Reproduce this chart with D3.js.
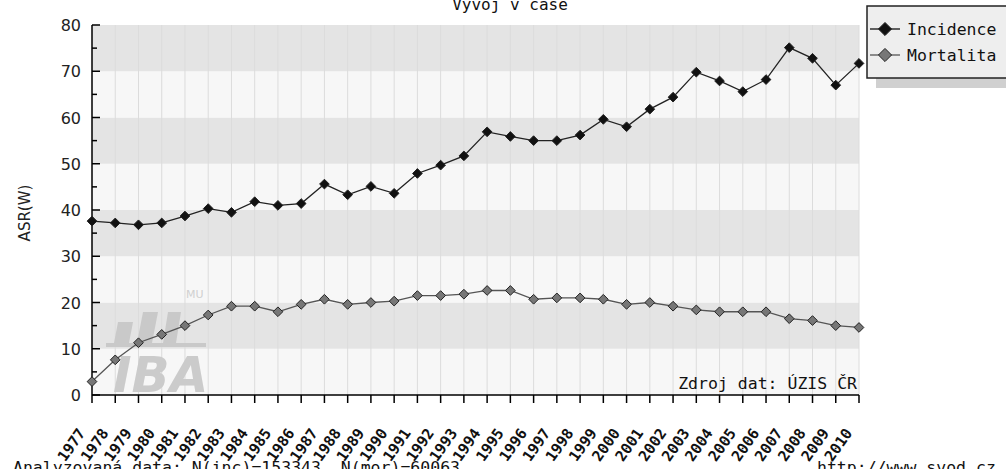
<!DOCTYPE html>
<html><head><meta charset="utf-8">
<script src="https://cdn.jsdelivr.net/npm/d3@7"></script>
<style>
body{margin:0;background:#fff;}
svg{display:block;}
.mono{font-family:"DejaVu Sans Mono",monospace;}
</style></head>
<body>
<svg id="c" width="1006" height="469"></svg>
<script>
const years = [1977,1978,1979,1980,1981,1982,1983,1984,1985,1986,1987,1988,1989,1990,1991,1992,1993,1994,1995,1996,1997,1998,1999,2000,2001,2002,2003,2004,2005,2006,2007,2008,2009,2010];
const incidence = [37.6,37.2,36.8,37.2,38.7,40.3,39.5,41.8,41.0,41.4,45.6,43.3,45.1,43.6,47.9,49.7,51.7,56.9,55.9,55.0,55.0,56.2,59.6,58.0,61.8,64.4,69.8,67.9,65.6,68.2,75.1,72.8,67.0,71.7];
const mortalita = [2.9,7.6,11.3,13.1,15.0,17.3,19.2,19.2,18.0,19.6,20.7,19.6,20.0,20.3,21.5,21.5,21.8,22.6,22.6,20.7,21.0,21.0,20.7,19.6,20.0,19.2,18.4,18.0,18.0,18.0,16.5,16.1,15.0,14.6];
const yTicks = [0,10,20,30,40,50,60,70,80];
const seriesNames = ["Incidence","Mortalita"];
const titleText = "Vývoj v čase";
const yTitle = "ASR(W)";
const sourceText = "Zdroj dat: ÚZIS ČR";
const footLeft = "Analyzovaná data: N(inc)=153343, N(mor)=60063";
const footRight = "http://www.svod.cz";

const svg = d3.select("#c");
const L=92, R=859, T=25, B=395;
const x = d3.scaleLinear().domain([years[0], years[years.length-1]]).range([L,R]);
const y = d3.scaleLinear().domain([0,80]).range([B,T]);

// bands
const bands = d3.range(0,80,10);
svg.append("g").selectAll("rect").data(bands).join("rect")
  .attr("x",L).attr("width",R-L)
  .attr("y",d=>y(d+10)).attr("height",d=>y(d)-y(d+10))
  .attr("fill",d=>(d/10)%2===1?"#e4e4e4":"#f7f7f7");
// vertical grid
svg.append("g").selectAll("line").data(years.slice(1)).join("line")
  .attr("x1",d=>x(d)).attr("x2",d=>x(d)).attr("y1",T).attr("y2",B)
  .attr("stroke","#dcdcdc").attr("stroke-width",1);

// logo watermark
const logo = svg.append("g").attr("fill","#c9c9c9");
logo.append("text").attr("x",186).attr("y",298).attr("font-family","DejaVu Sans, sans-serif")
  .attr("font-size",11).attr("fill","#d0d0d0").text("MU");
logo.append("path").attr("d","M118,322 L133,322 L129,343 L114,343 Z");
logo.append("path").attr("d","M143,312 L158,312 L152,343 L137,343 Z");
logo.append("path").attr("d","M168,312 L181,312 L176,343 L163,343 Z");
logo.append("rect").attr("x",106).attr("y",343).attr("width",100).attr("height",4);
logo.append("text").attr("x",113).attr("y",392).attr("font-family","DejaVu Sans, sans-serif")
  .attr("font-weight","bold").attr("font-style","italic").attr("font-size",50).attr("fill","#cbcbcb").text("IBA");

// source text
svg.append("text").attr("class","mono").attr("x",857).attr("y",389).attr("text-anchor","end")
  .attr("font-size",16.5).attr("fill","#111").text(sourceText);

// axes
const ya = svg.append("g");
ya.append("line").attr("x1",L).attr("x2",L).attr("y1",T).attr("y2",B).attr("stroke","#000").attr("stroke-width",1.5);
ya.selectAll(".maj").data(yTicks).join("line").attr("x1",L).attr("x2",L+8).attr("y1",d=>y(d)).attr("y2",d=>y(d)).attr("stroke","#000").attr("stroke-width",1.5);
ya.selectAll(".min").data(d3.range(5,80,10)).join("line").attr("class","min").attr("x1",L).attr("x2",L+5).attr("y1",d=>y(d)).attr("y2",d=>y(d)).attr("stroke","#000").attr("stroke-width",1.5);
ya.selectAll("text").data(yTicks).join("text").attr("x",81).attr("y",d=>y(d)+6).attr("text-anchor","end")
  .attr("font-family","DejaVu Sans, sans-serif").attr("font-size",16).attr("fill","#222").text(d=>d);

const xa = svg.append("g");
xa.append("line").attr("x1",L).attr("x2",R).attr("y1",B).attr("y2",B).attr("stroke","#000").attr("stroke-width",1.5);
xa.selectAll("line.t").data(years).join("line").attr("class","t").attr("x1",d=>x(d)).attr("x2",d=>x(d)).attr("y1",B).attr("y2",B+8).attr("stroke","#000").attr("stroke-width",1.5);
xa.selectAll("text").data(years).join("text").attr("class","mono")
  .attr("transform",d=>`translate(${x(d)-6},${433}) rotate(-55)`)
  .attr("text-anchor","end").attr("font-size",15).attr("font-weight","bold").attr("fill","#111").text(d=>d);

// series
const line = d3.line().x((d,i)=>x(years[i])).y(d=>y(d));
const diamond = d3.symbol().type(d3.symbolDiamond2).size(60);
function drawSeries(vals, stroke, fill){
  const g = svg.append("g");
  g.append("path").attr("d",line(vals)).attr("fill","none").attr("stroke",stroke).attr("stroke-width",1.3);
  g.selectAll("path.m").data(vals).join("path").attr("class","m")
    .attr("transform",(d,i)=>`translate(${x(years[i])},${y(d)})`)
    .attr("d",diamond).attr("fill",fill).attr("stroke","#222").attr("stroke-width",1);
}
drawSeries(mortalita,"#555","#777");
drawSeries(incidence,"#222","#111");

// title
svg.append("text").attr("class","mono").attr("x",510).attr("y",10).attr("text-anchor","middle")
  .attr("font-size",16).attr("fill","#111").text(titleText);

// y title
svg.append("text").attr("transform","translate(30,213) rotate(-90)").attr("text-anchor","middle")
  .attr("font-family","DejaVu Sans, sans-serif").attr("font-size",15).attr("fill","#222").text(yTitle);

// legend
const lg = svg.append("g");
lg.append("rect").attr("x",876).attr("y",15).attr("width",140).attr("height",73).attr("fill","#d0d0d0");
lg.append("rect").attr("x",867).attr("y",6).attr("width",150).attr("height",72).attr("fill","#eeeeee").attr("stroke","#222").attr("stroke-width",1.5);
const legFills = ["#111","#777"];
const legStrokes = ["#111","#555"];
seriesNames.forEach((n,i)=>{
  const cy = 29 + i*26;
  lg.append("line").attr("x1",870).attr("x2",900).attr("y1",cy).attr("y2",cy).attr("stroke",legStrokes[i]).attr("stroke-width",1.3);
  lg.append("path").attr("transform",`translate(885,${cy})`).attr("d",d3.symbol().type(d3.symbolDiamond2).size(110))
    .attr("fill",legFills[i]).attr("stroke","#222");
  lg.append("text").attr("class","mono").attr("x",907).attr("y",cy+6).attr("font-size",16.5).attr("fill","#111").text(n);
});

// footers
svg.append("text").attr("class","mono").attr("x",13).attr("y",473).attr("font-size",16.5).attr("fill","#111").text(footLeft);
svg.append("text").attr("class","mono").attr("x",817).attr("y",473).attr("font-size",16.5).attr("fill","#111").text(footRight);
</script>
</body></html>
